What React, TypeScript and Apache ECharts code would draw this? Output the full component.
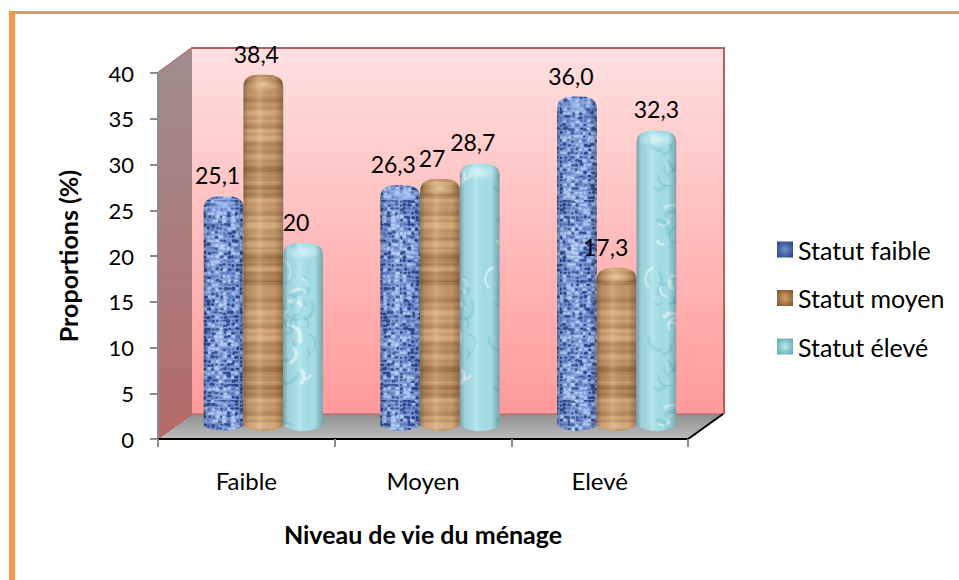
import React, { useEffect, useRef } from "react";
import * as echarts from "echarts";

const categories = ["Faible", "Moyen", "Elevé"];
const seriesNames = ["Statut faible", "Statut moyen", "Statut élevé"];
const statutFaible = [25.1, 26.3, 36.0];
const statutMoyen = [38.4, 27, 17.3];
const statutEleve = [20, 28.7, 32.3];
const labelsFaible = ["25,1", "26,3", "36,0"];
const labelsMoyen = ["38,4", "27", "17,3"];
const labelsEleve = ["20", "28,7", "32,3"];
const yTicks = { min: 0, max: 40, interval: 5 };

const FONT = "Lato, Carlito, 'Open Sans', sans-serif";

function noise(x: number, y: number) {
  const s = Math.sin(x * 12.9898 + y * 78.233) * 43758.5453;
  return s - Math.floor(s);
}

function makeTexture(kind: number) {
  const w = 80;
  const h = 200;
  const c = document.createElement("canvas");
  c.width = w;
  c.height = h;
  const g = c.getContext("2d")!;
  if (kind === 0) {
    g.fillStyle = "#7d9ddd";
    g.fillRect(0, 0, w, h);
    for (let y = 0; y < h; y += 4) {
      for (let x = 0; x < w; x += 4) {
        const n = noise(x, y);
        const jx = noise(x, y + 1) * 2;
        const jy = noise(x + 1, y) * 2;
        g.fillStyle = n < 0.38 ? "#2a4890" : n < 0.62 ? "#5877c0" : "#b3cbf7";
        g.beginPath();
        g.ellipse(x + jx, y + jy, 1.2 + noise(x, y + 2) * 1.4, 1 + noise(x, y + 3), 0, 0, 6.3);
        g.fill();
      }
    }
  } else if (kind === 1) {
    for (let y = 0; y < h; y++) {
      const band =
        Math.sin(y * 0.0628) * 0.22 +
        Math.sin(y * 0.2827 + 1) * 0.26 +
        Math.sin(y * 0.7226 + 2) * 0.18 +
        (noise(3, y) - 0.5) * 0.3;
      const t = Math.max(0, Math.min(1, 0.7 + band * 0.62));
      const r = Math.round(132 + t * 88);
      const gg = Math.round(84 + t * 88);
      const b = Math.round(40 + t * 82);
      g.fillStyle = `rgb(${r},${gg},${b})`;
      g.fillRect(0, y, w, 1);
    }
  } else {
    g.fillStyle = "#a6e2ea";
    g.fillRect(0, 0, w, h);
    for (let i = 0; i < 60; i++) {
      const x = 14 + noise(i, 1) * (w - 28);
      const y = 14 + noise(i, 2) * (h - 28);
      const r = 4 + noise(i, 3) * 10;
      g.strokeStyle = i % 3 === 0 ? "rgba(232,252,253,0.7)" : "rgba(110,195,208,0.4)";
      g.lineWidth = 1.5 + noise(i, 4) * 3;
      g.beginPath();
      g.arc(x, y, r, noise(i, 5) * 6, noise(i, 5) * 6 + 2);
      g.stroke();
    }
  }
  const out = document.createElement("canvas");
  out.width = w;
  out.height = h;
  const o = out.getContext("2d")!;
  o.filter = kind === 1 ? "blur(0.5px)" : "blur(0.7px)";
  for (const dx of [-w, 0, w]) {
    for (const dy of [-h, 0, h]) {
      o.drawImage(c, dx, dy);
    }
  }
  return { image: out.toDataURL(), repeat: "repeat", imageWidth: w, imageHeight: h };
}

const valueSets = [statutFaible, statutMoyen, statutEleve];
const labelSets = [labelsFaible, labelsMoyen, labelsEleve];
const capTone = ["170,195,245", "245,215,165", "228,250,252"];
const labelShift = [
  [-6, -7, -6],
  [-7, -8, -11],
  [-7, -7, 0],
];
const legendTone = [
  ["#24407e", "#6f90d0"],
  ["#7d4f28", "#d3a06c"],
  ["#5f9fa8", "#b7ecf1"],
];

export default function App() {
  const ref = useRef<HTMLDivElement>(null);
  useEffect(() => {
    const chart = echarts.init(ref.current!, undefined, { renderer: "svg" });
    const textures = [makeTexture(0), makeTexture(1), makeTexture(2)];

    const mkRender = (si: number) => (params: any, api: any) => {
      const cat = api.value(0);
      const v = api.value(1);
      const top = api.coord([cat, v]);
      const zero = api.coord([cat, 0]);
      const band = api.size([1, 0])[0];
      const w = band * 0.225;
      const x = top[0] + (si - 1) * w - w / 2;
      const y = top[1];
      const h = zero[1] - top[1] + 5;
      const rx = w * 0.42;
      const ry = 12;
      const d = `M0 ${ry} C0 3 ${rx * 0.4} 0 ${rx} 0 L${w - rx} 0 C${w - rx * 0.4} 0 ${w} 3 ${w} ${ry} L${w} ${h - 5} Q${w / 2} ${h + 5} 0 ${h - 5} Z`;
      const shape = { pathData: d, x, y, width: w, height: h, layout: "cover" };
      return {
        type: "group",
        children: [
          { type: "path", shape, style: { fill: textures[si] } },
          {
            type: "path",
            shape,
            style: {
              fill: {
                type: "linear",
                x: 0,
                y: 0,
                x2: 1,
                y2: 0,
                colorStops: [
                  { offset: 0, color: "rgba(40,40,50,0.36)" },
                  { offset: 0.12, color: "rgba(40,40,50,0.08)" },
                  { offset: 0.4, color: "rgba(255,255,255,0.16)" },
                  { offset: 0.78, color: "rgba(40,40,50,0.02)" },
                  { offset: 1, color: "rgba(40,40,50,0.34)" },
                ],
              },
            },
          },
          {
            type: "ellipse",
            shape: { cx: x + w / 2, cy: y + 9, rx: w * 0.46, ry: 8 },
            style: {
              fill: {
                type: "radial",
                x: 0.5,
                y: 0.5,
                r: 0.5,
                colorStops: [
                  { offset: 0, color: `rgba(${capTone[si]},0.8)` },
                  { offset: 1, color: `rgba(${capTone[si]},0)` },
                ],
              },
            },
          },
          {
            type: "text",
            style: {
              text: labelSets[si][cat],
              x: x + w / 2 + labelShift[si][cat],
              y: y - 21,
              align: "center",
              verticalAlign: "middle",
              fontFamily: FONT,
              fontSize: 23,
              fill: "#000",
            },
          },
        ],
      };
    };

    chart.setOption({
      animation: false,
      backgroundColor: "#ffffff",
      textStyle: { fontFamily: FONT },
      legend: {
        left: 772,
        top: 232,
        orient: "vertical",
        itemWidth: 16,
        itemHeight: 16,
        itemGap: 23.5,
        icon: "rect",
        padding: 5,
        textStyle: { fontFamily: FONT, fontSize: 25, color: "#000", padding: [0, 0, 0, 0], lineHeight: 24 },
        data: seriesNames.map((name, i) => ({
          name,
          itemStyle: {
            color: {
              type: "radial",
              x: 0.5,
              y: 0.5,
              r: 0.7,
              colorStops: [
                { offset: 0, color: legendTone[i][1] },
                { offset: 1, color: legendTone[i][0] },
              ],
            },
          },
        })),
      },
      grid: [
        { left: 158, right: 271, top: 73, bottom: 141 },
        { left: 175, right: 254, top: 60, bottom: 154 },
      ],
      xAxis: [
        {
          type: "category",
          gridIndex: 0,
          data: categories,
          name: "Niveau de vie du ménage",
          nameLocation: "middle",
          nameGap: 82,
          nameTextStyle: { fontFamily: FONT, fontSize: 25, fontWeight: "bold", color: "#000" },
          axisLine: { lineStyle: { color: "#000", width: 2 } },
          axisTick: { show: true, alignWithLabel: false, length: 8, lineStyle: { color: "#8c8c8c", width: 2 } },
          axisLabel: { margin: 29, fontFamily: FONT, fontSize: 24, color: "#000" },
        },
        { type: "category", gridIndex: 1, data: categories, show: false },
      ],
      yAxis: [
        {
          type: "value",
          gridIndex: 0,
          ...yTicks,
          name: "Proportions (%)",
          nameLocation: "middle",
          nameGap: 78,
          nameTextStyle: { fontFamily: FONT, fontSize: 25, fontWeight: "bold", color: "#000" },
          axisLine: { show: true, lineStyle: { color: "#8c8c8c", width: 2 } },
          axisTick: { show: true, length: 8, lineStyle: { color: "#8c8c8c", width: 2 } },
          axisLabel: { margin: 24, fontFamily: FONT, fontSize: 22, color: "#000" },
          splitLine: { show: false },
        },
        { type: "value", gridIndex: 1, ...yTicks, show: false },
      ],
      graphic: [
        { type: "rect", shape: { x: 9, y: 11, width: 950, height: 3 }, style: { fill: "#F79646" } },
        { type: "rect", shape: { x: 9, y: 11, width: 6, height: 569 }, style: { fill: "#F79646" } },
        {
          type: "polygon",
          shape: { points: [[192, 48], [724, 48], [724, 414], [192, 414]] },
          style: {
            fill: {
              type: "linear", x: 0, y: 0, x2: 0, y2: 1,
              colorStops: [
                { offset: 0, color: "#ffe0e0" },
                { offset: 1, color: "#ff9a9a" },
              ],
            },
          },
        },
        { type: "polyline", shape: { points: [[158, 73], [192, 48], [724, 48], [724, 414]] }, style: { fill: "none", stroke: "#b45f5f", lineWidth: 2 } },
        {
          type: "polygon",
          shape: { points: [[158, 73], [192, 48], [192, 414], [158, 439]] },
          style: {
            fill: {
              type: "linear", x: 0, y: 0, x2: 0, y2: 1,
              colorStops: [
                { offset: 0, color: "#a08e8e" },
                { offset: 1, color: "#b56a6a" },
              ],
            },
          },
        },
        {
          type: "polygon",
          shape: { points: [[158, 439], [192, 414], [724, 414], [690, 439]] },
          style: {
            fill: {
              type: "linear", x: 0, y: 0, x2: 0, y2: 1,
              colorStops: [
                { offset: 0, color: "#8f8f8f" },
                { offset: 1, color: "#bdbdbd" },
              ],
            },
          },
        },
        { type: "polyline", shape: { points: [[158, 439], [192, 414], [724, 414]] }, style: { fill: "none", stroke: "#b85c5c", lineWidth: 1 } },
        { type: "line", shape: { x1: 688, y1: 439, x2: 723, y2: 414 }, style: { stroke: "#000", lineWidth: 2 } },
      ],
      series: seriesNames.map((name, si) => ({
        type: "custom",
        name,
        xAxisIndex: 1,
        yAxisIndex: 1,
        clip: false,
        z: 5,
        silent: true,
        encode: { x: 0, y: 1 },
        data: valueSets[si].map((v, i) => [i, v]),
        renderItem: mkRender(si),
      })),
    });
    return () => chart.dispose();
  }, []);
  return <div ref={ref} style={{ position: "fixed", left: 0, top: 0, width: 959, height: 580 }} />;
}
